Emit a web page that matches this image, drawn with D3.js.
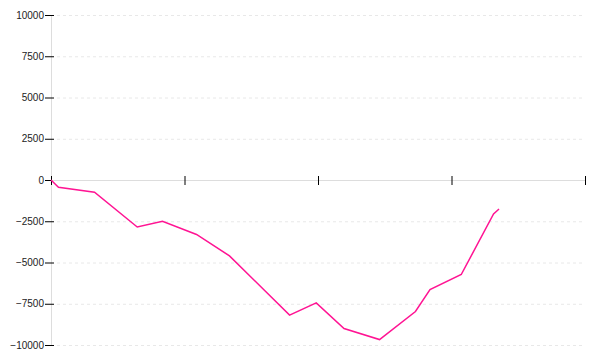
<!DOCTYPE html>
<html>
<head>
<meta charset="utf-8">
<script src="https://cdnjs.cloudflare.com/ajax/libs/d3/7.8.5/d3.min.js"></script>
<style>
  body { margin: 0; background: #fff; }
  .axis text { font-family: "Liberation Sans", Arial, sans-serif; font-size: 10px; fill: #222; }
  .grid line { stroke: #e8e8e8; stroke-dasharray: 3,3; }
  .grid .domain { display: none; }
</style>
</head>
<body>
<svg id="chart" width="600" height="360"></svg>
<script>
// x positions (one axis tick every 10 units) and running values
const xValues = [0, 0.56, 3.26, 6.46, 8.35, 10.9, 13.37, 17.87, 19.87, 21.95, 24.61, 27.3, 28.39, 30.73, 33.15, 33.56];
const yValues = [0, -440, -740, -2850, -2500, -3300, -4600, -8190, -7450, -9000, -9670, -7970, -6640, -5730, -2060, -1760];
const xTicks = [0, 10, 20, 30, 40];
const yTicks = [-10000, -7500, -5000, -2500, 0, 2500, 5000, 7500, 10000];

const data = xValues.map((x, i) => ({ x: x, y: yValues[i] }));

const svg = d3.select('#chart');
const x = d3.scaleLinear().domain([0, 40]).range([51, 585]);
const y = d3.scaleLinear().domain([-10000, 10000]).range([345, 15]);

// dashed horizontal grid, starting just right of the ticks
svg.append('g')
    .attr('class', 'grid')
    .attr('transform', 'translate(51,0)')
    .call(d3.axisLeft(y).tickValues(yTicks.filter(d => d !== 0)).tickFormat(''))
  .selectAll('.tick line')
    .attr('x1', 6)
    .attr('x2', 534);

// y axis
const yAxis = svg.append('g')
    .attr('class', 'axis')
    .attr('transform', 'translate(51,0)')
    .call(d3.axisLeft(y).tickValues(yTicks).tickSize(6).tickPadding(1).tickFormat(d3.format('d')));
yAxis.select('.domain').attr('stroke', '#ddd');
yAxis.selectAll('.tick line').attr('x2', -6).attr('x1', 3).attr('stroke', '#000');

// x axis at zero, no labels
const xAxis = svg.append('g')
    .attr('class', 'axis')
    .attr('transform', 'translate(0,' + y(0) + ')')
    .call(d3.axisBottom(x).tickValues(xTicks).tickSize(5).tickFormat(''));
xAxis.select('.domain').attr('stroke', '#ddd');
xAxis.selectAll('.tick line').attr('y1', -4).attr('y2', 5).attr('stroke', '#000');

const line = d3.line()
    .x(d => x(d.x))
    .y(d => y(d.y));

svg.append('path')
    .datum(data)
    .attr('fill', 'none')
    .attr('stroke', '#ff1493')
    .attr('stroke-width', 1.5)
    .attr('d', line);
</script>
</body>
</html>
